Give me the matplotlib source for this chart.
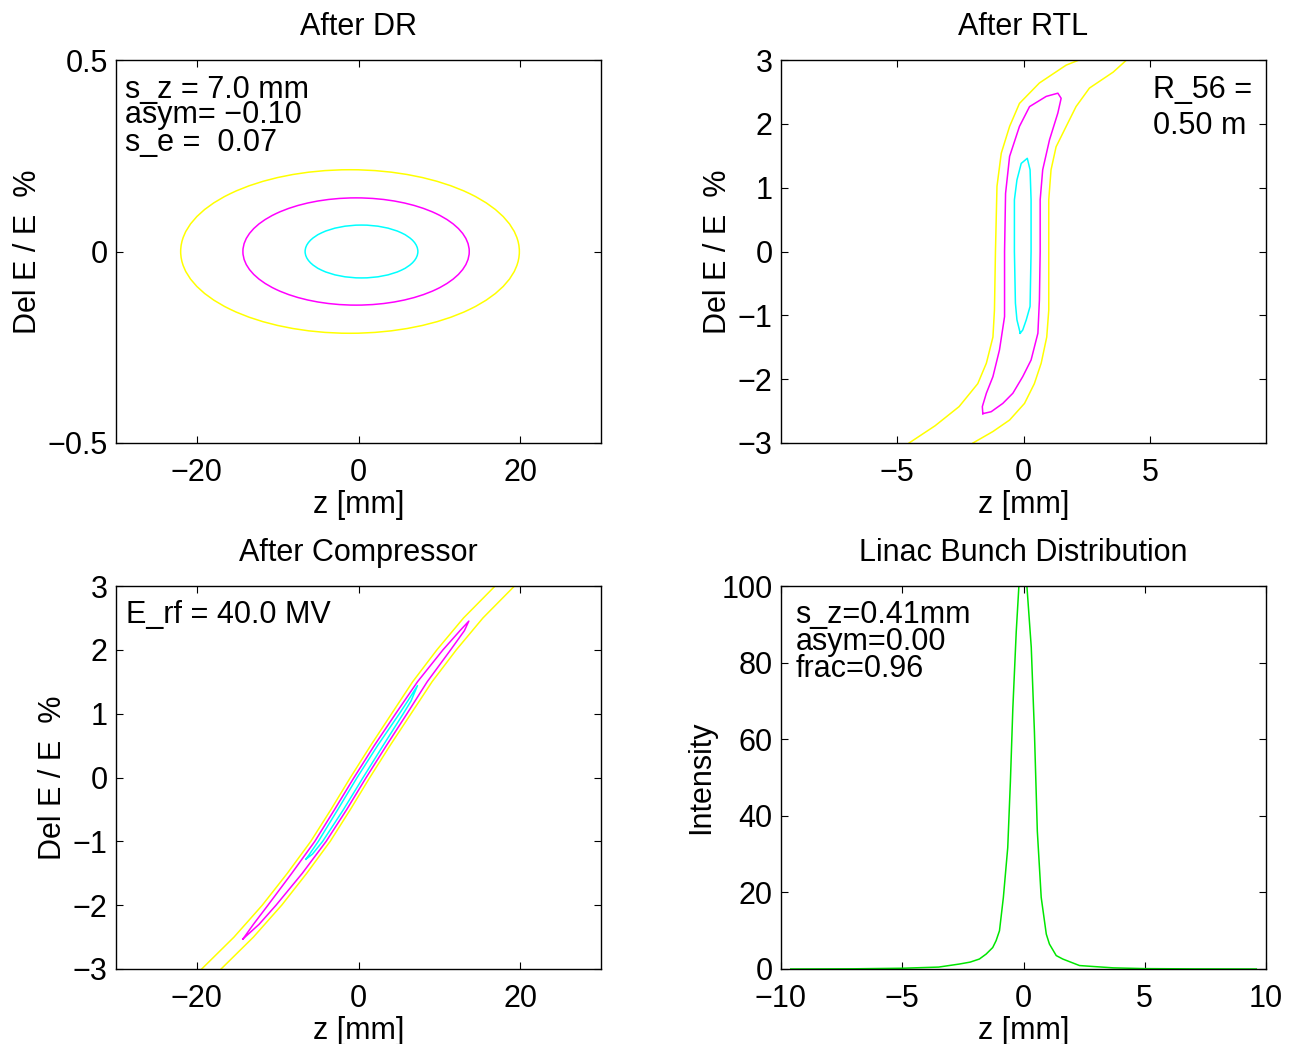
import matplotlib
matplotlib.use('Agg')
import matplotlib.pyplot as plt
from matplotlib.patches import Ellipse

plt.rcParams['font.family'] = ['Liberation Sans', 'DejaVu Sans']
plt.rcParams['font.size'] = 22

# ---------------- data ----------------
# After DR: three contour ellipses (centre z, full width in z [mm], full height in dE [%])
dr_center_z = [-1.05, -0.3, 0.37]
dr_width_z = [41.9, 28.0, 13.95]
dr_height_e = [0.427, 0.28, 0.138]

# After RTL: outer (yellow) band edges and closed inner contours
rtl_yel_left_z = [-4.53, -3.5, -2.55, -1.81, -1.47, -1.21, -1.15, -1.11, -1.05, -0.88, -0.55, -0.16, 0.63, 1.69, 2.2]
rtl_yel_left_e = [-3.0, -2.73, -2.43, -2.07, -1.75, -1.34, -0.92, 0.0, 1.02, 1.54, 1.96, 2.32, 2.64, 2.92, 3.0]
rtl_yel_right_z = [-2.0, -1.21, -0.55, 0.04, 0.43, 0.70, 0.92, 1.0, 1.0, 1.0, 1.09, 1.29, 1.69, 2.08, 2.61, 3.55, 4.08]
rtl_yel_right_e = [-3.0, -2.82, -2.64, -2.38, -2.07, -1.75, -1.34, -0.92, 0.0, 0.81, 1.28, 1.64, 1.96, 2.27, 2.56, 2.81, 3.0]
rtl_mag_z = [-1.61, -1.63, -1.47, -1.21, -0.95, -0.75, -0.75, -0.71, -0.55, -0.16, 0.24, 0.9, 1.36, 1.49,
             1.36, 1.03, 0.76, 0.66, 0.66, 0.63, 0.57, 0.30, -0.03, -0.42, -0.82, -1.28, -1.61]
rtl_mag_e = [-2.54, -2.43, -2.22, -1.96, -1.54, -1.02, 0.0, 0.91, 1.49, 1.96, 2.27, 2.43, 2.48, 2.40,
             2.17, 1.75, 1.28, 0.81, 0.0, -0.76, -1.28, -1.70, -1.96, -2.22, -2.38, -2.51, -2.54]
rtl_cya_z = [-0.13, -0.26, -0.32, -0.36, -0.36, -0.26, -0.09, 0.15, 0.26, 0.30, 0.30, 0.26, 0.11, -0.03, -0.13]
rtl_cya_e = [-1.28, -1.07, -0.81, 0.0, 0.81, 1.12, 1.38, 1.46, 1.28, 0.81, 0.0, -0.86, -1.07, -1.23, -1.28]

# After Compressor
comp_yel_e = [-3.0, -2.5, -2.0, -1.5, -1.0, -0.5, 0.0, 0.5, 1.0, 1.5, 2.0, 2.5, 3.0]
comp_yel_left_z = [-19.4, -15.4, -11.9, -8.8, -5.9, -3.4, -1.0, 1.5, 4.1, 6.7, 9.7, 13.0, 16.9]
comp_yel_right_z = [-17.0, -13.0, -9.5, -6.4, -3.5, -1.0, 1.4, 3.9, 6.5, 9.1, 12.1, 15.4, 19.3]
comp_mag_z = [-14.3, -13.0, -11.2, -8.25, -5.4, -2.95, -0.55, 1.95, 4.6, 7.3, 10.45, 12.55, 13.65,
              13.1, 11.4, 8.5, 6.0, 3.45, 0.95, -1.45, -4.0, -6.95, -10.2, -12.3, -14.3]
comp_mag_e = [-2.53, -2.3, -2.0, -1.5, -1.0, -0.5, 0.0, 0.5, 1.0, 1.5, 2.0, 2.3, 2.45,
              2.3, 2.0, 1.5, 1.0, 0.5, 0.0, -0.5, -1.0, -1.5, -2.0, -2.3, -2.53]
comp_cya_z = [-6.5, -6.05, -4.97, -2.55, -0.17, 2.36, 5.06, 6.1, 7.3,
              6.5, 5.54, 3.04, 0.57, -1.85, -4.43, -5.7, -6.5]
comp_cya_e = [-1.28, -1.2, -1.0, -0.5, 0.0, 0.5, 1.0, 1.2, 1.44,
              1.2, 1.0, 0.5, 0.0, -0.5, -1.0, -1.2, -1.28]

# Linac bunch distribution
linac_z = [-9.6, -7.0, -5.0, -3.5, -2.64, -2.2, -1.82, -1.54, -1.27, -1.13, -0.99, -0.83, -0.65, -0.54,
           -0.44, -0.30, -0.19, -0.03, 0.14, 0.32, 0.45, 0.57, 0.73, 0.94, 1.07, 1.35, 1.62, 2.31, 3.0,
           3.7, 5.0, 7.0, 9.6]
linac_int = [0.0, 0.05, 0.2, 0.5, 1.3, 1.8, 2.6, 3.9, 5.6, 7.4, 10.0, 18.7, 31.7, 49.0,
             68.0, 88.0, 100.0, 125.0, 100.0, 84.0, 62.0, 36.0, 18.7, 9.1, 6.5, 3.5, 2.6, 0.9, 0.6,
             0.3, 0.1, 0.03, 0.0]

# ---------------- figure ----------------
YEL, MAG, CYA, GRN = (1, 1, 0), (1, 0, 1), (0, 1, 1), (0, 0.9, 0)
LW = 1.1

fig = plt.figure(figsize=(12.94, 10.44), dpi=100)
W, H = 485 / 1294, 383 / 1044
ax1 = fig.add_axes([116 / 1294, 1 - 443 / 1044, W, H])
ax2 = fig.add_axes([781 / 1294, 1 - 443 / 1044, W, H])
ax3 = fig.add_axes([116 / 1294, 1 - 969 / 1044, W, H])
ax4 = fig.add_axes([781 / 1294, 1 - 969 / 1044, W, H])


def style(ax, title, ylabel):
    ax.set_title(title, pad=18, fontsize=22)
    ax.set_xlabel('z [mm]', labelpad=1)
    ax.set_ylabel(ylabel, labelpad=3.5)
    ax.tick_params(direction='in', top=True, right=True, length=5, width=0.8)
    ax.tick_params(axis='x', pad=11)
    ax.tick_params(axis='y', pad=6)
    for s in ax.spines.values():
        s.set_linewidth(1.0)


# After DR
for cz, w, h, col in zip(dr_center_z, dr_width_z, dr_height_e, [YEL, MAG, CYA]):
    ax1.add_patch(Ellipse((cz, 0.0), w, h, fill=False, edgecolor=col, lw=LW))
ax1.set_xlim(-30, 30)
ax1.set_ylim(-0.5, 0.5)
ax1.set_xticks([-20, 0, 20])
ax1.set_yticks([-0.5, 0, 0.5])
ax1.set_yticklabels(['\u22120.5', '0', '0.5'])
style(ax1, 'After DR', 'Del E / E  %')
for y, s in zip([0.9016, 0.8347, 0.7624], ['s_z = 7.0 mm', 'asym= \u22120.10', 's_e =  0.07']):
    ax1.text(0.0186, y, s, transform=ax1.transAxes, va='baseline', ha='left')

# After RTL
ax2.plot(rtl_yel_left_z, rtl_yel_left_e, color=YEL, lw=LW)
ax2.plot(rtl_yel_right_z, rtl_yel_right_e, color=YEL, lw=LW)
ax2.plot(rtl_mag_z, rtl_mag_e, color=MAG, lw=LW)
ax2.plot(rtl_cya_z, rtl_cya_e, color=CYA, lw=LW)
ax2.set_xlim(-9.6, 9.6)
ax2.set_ylim(-3, 3)
ax2.set_xticks([-5, 0, 5])
ax2.set_yticks([-3, -2, -1, 0, 1, 2, 3])
style(ax2, 'After RTL', 'Del E / E  %')
ax2.text(0.767, 0.9016, 'R_56 =', transform=ax2.transAxes, va='baseline', ha='left')
ax2.text(0.767, 0.806, '0.50 m', transform=ax2.transAxes, va='baseline', ha='left')

# After Compressor
ax3.plot(comp_yel_left_z, comp_yel_e, color=YEL, lw=LW)
ax3.plot(comp_yel_right_z, comp_yel_e, color=YEL, lw=LW)
ax3.plot(comp_mag_z, comp_mag_e, color=MAG, lw=LW)
ax3.plot(comp_cya_z, comp_cya_e, color=CYA, lw=LW)
ax3.set_xlim(-30, 30)
ax3.set_ylim(-3, 3)
ax3.set_xticks([-20, 0, 20])
ax3.set_yticks([-3, -2, -1, 0, 1, 2, 3])
style(ax3, 'After Compressor', 'Del E / E  %')
ax3.text(0.0206, 0.9026, 'E_rf = 40.0 MV', transform=ax3.transAxes, va='baseline', ha='left')

# Linac bunch distribution
ax4.plot(linac_z, linac_int, color=GRN, lw=LW)
ax4.set_xlim(-10, 10)
ax4.set_ylim(0, 100)
ax4.set_xticks([-10, -5, 0, 5, 10])
ax4.set_yticks([0, 20, 40, 60, 80, 100])
style(ax4, 'Linac Bunch Distribution', 'Intensity')
for y, s in zip([0.9026, 0.8329, 0.7632], ['s_z=0.41mm', 'asym=0.00', 'frac=0.96']):
    ax4.text(0.0295, y, s, transform=ax4.transAxes, va='baseline', ha='left')

fig.savefig('out.png', dpi=100)
